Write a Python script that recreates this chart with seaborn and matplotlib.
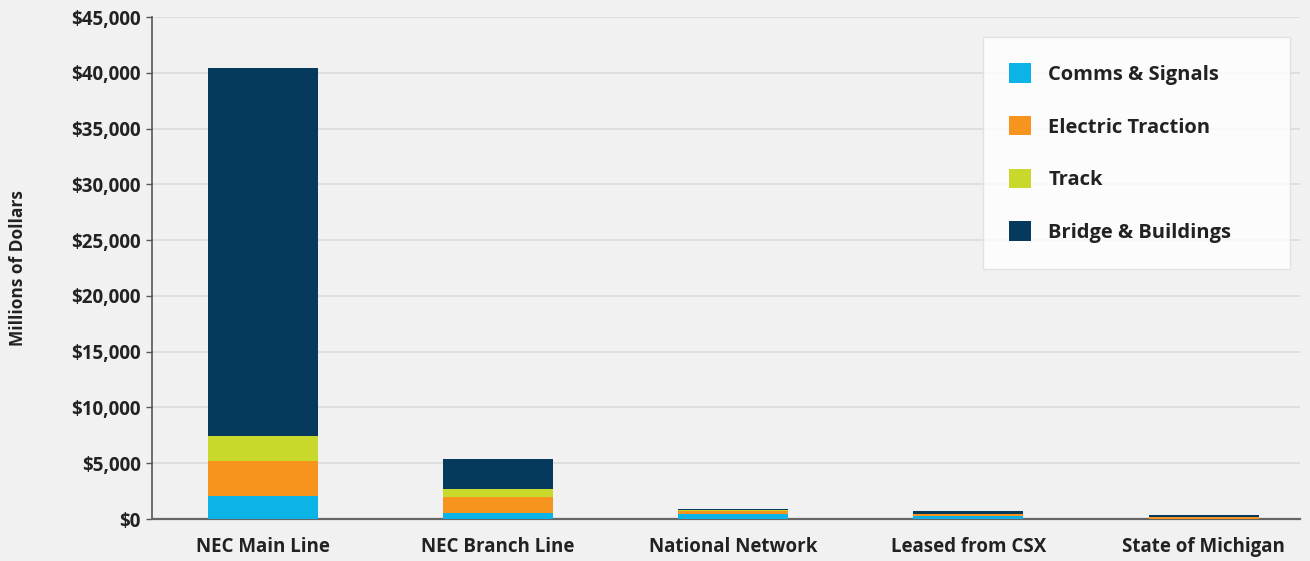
import numpy as np
import pandas as pd
import matplotlib
matplotlib.use("Agg")
import matplotlib.pyplot as plt
import seaborn as sns
from matplotlib.ticker import FuncFormatter
from matplotlib.patches import Patch

categories = ["NEC Main Line", "NEC Branch Line", "National Network", "Leased from CSX", "State of Michigan"]
comms = [2100, 520, 480, 280, 20]
electric = [3100, 1450, 230, 130, 130]
track = [2250, 720, 60, 60, 40]
bridge = [32950, 2690, 150, 250, 210]
series_names = ["Comms & Signals", "Electric Traction", "Track", "Bridge & Buildings"]
colors = ["#0bb3e6", "#f7941d", "#c8d92b", "#063a5c"]

sns.set_theme(style="white")
plt.rcParams['font.family'] = ['Open Sans', 'DejaVu Sans']

bg = "#f0f1f0"
fig = plt.figure(figsize=(13.10, 5.61), dpi=100, facecolor=bg)
ax = fig.add_axes([152/1310, 1-519/561, (1300-152)/1310, (519-17)/561])
ax.set_facecolor(bg)

layers = [comms, electric, track, bridge]
cum = np.cumsum(np.array(layers), axis=0)
for i in range(len(layers) - 1, -1, -1):
    d = pd.DataFrame({"cat": categories, "val": cum[i]})
    sns.barplot(data=d, x="cat", y="val", color=colors[i], ax=ax, width=0.468,
                order=categories, saturation=1, linewidth=0, zorder=3)

ax.set_ylim(0, 45000)
ax.set_xlim(-0.47, 4.41)
ax.set_yticks(np.arange(0, 45001, 5000))
ax.yaxis.set_major_formatter(FuncFormatter(lambda v, p: f"${int(v):,}"))
ax.grid(axis="y", color="#dadbda", linewidth=1.2, zorder=0)
ax.set_axisbelow(True)
for s in ["top", "right"]:
    ax.spines[s].set_visible(False)
ax.spines["left"].set_color("#555555")
ax.spines["bottom"].set_color("#666666")
ax.spines["left"].set_linewidth(1.2)
ax.spines["bottom"].set_linewidth(1.6)
ax.tick_params(axis="y", which="major", left=True, length=4, width=1, color="#555555",
               labelsize=13.5, labelcolor="#222222", pad=4)
ax.tick_params(axis="x", bottom=False, labelsize=13.5, labelcolor="#222222", pad=7)
for lab in ax.get_yticklabels() + ax.get_xticklabels():
    lab.set_fontweight("bold")
ax.set_xlabel("")
ax.set_ylabel("Millions of Dollars", fontsize=12.5, fontweight="bold", color="#222222")
ax.yaxis.set_label_coords(-(152 - 27) / 1148, 0.5)

handles = [Patch(facecolor=c, edgecolor="none", label=n) for c, n in zip(colors, series_names)]
leg = ax.legend(handles=handles, loc="upper left",
                bbox_to_anchor=((983 - 152) / 1148, 0.5, 307 / 1148, 0.96 - 0.5),
                mode="expand", frameon=True, fancybox=False, labelspacing=1.55,
                handlelength=1.1, handleheight=1.1, handletextpad=0.85,
                borderpad=1.3, borderaxespad=0, prop={"weight": "bold", "size": 14.5})
leg.get_frame().set_facecolor("white")
leg.get_frame().set_edgecolor("#dddddd")
for t in leg.get_texts():
    t.set_color("#222222")

fig.savefig("out.png", dpi=100, facecolor=bg)
